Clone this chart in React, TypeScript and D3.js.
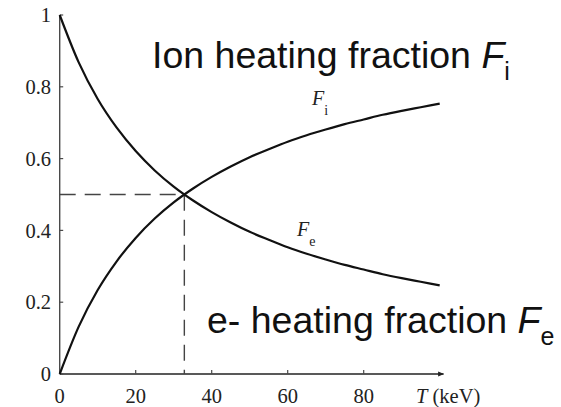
import React from "react";
import * as d3 from "d3";

// Temperature samples (keV)
const temps = [0, 5, 10, 15, 20, 25, 30, 35, 40, 45, 50, 55, 60, 65, 70, 75, 80, 85, 90, 95, 100];
// Fraction of alpha heating going to ions
const ionFraction = [0, 0.132, 0.234, 0.314, 0.379, 0.433, 0.478, 0.516, 0.549, 0.578, 0.604, 0.626, 0.647, 0.665, 0.681, 0.696, 0.709, 0.722, 0.733, 0.743, 0.753];
// Fraction of alpha heating going to electrons
const electronFraction = [1, 0.868, 0.766, 0.686, 0.621, 0.567, 0.522, 0.484, 0.451, 0.422, 0.396, 0.374, 0.353, 0.335, 0.319, 0.304, 0.291, 0.278, 0.267, 0.257, 0.247];
// Crossover point where both fractions equal one half
const crossT = 32.8;
const crossF = 0.5;

const xTicks = [0, 20, 40, 60, 80];
const yTicks = [0, 0.2, 0.4, 0.6, 0.8, 1];
const yTickLabels = ["0", "0.2", "0.4", "0.6", "0.8", "1"];

const W = 561;
const H = 407;

export default function App() {
  const x = d3.scaleLinear().domain([0, 100]).range([59.7, 439.7]);
  const y = d3.scaleLinear().domain([0, 1]).range([374, 15]);

  const line = d3
    .line<number>()
    .x((_, i) => x(temps[i]))
    .y((d) => y(d))
    .curve(d3.curveMonotoneX);

  const serif = "'Liberation Serif', 'Times New Roman', serif";
  const sans = "'Liberation Sans', Arial, sans-serif";
  const axisColor = "#4a4a4a";
  const tickFont = 20.5;
  const x0 = x(0);
  const y0 = y(0);
  const xEnd = x(101);

  return (
    <svg
      width={W}
      height={H}
      viewBox={`0 0 ${W} ${H}`}
      style={{ position: "absolute", left: 0, top: 0, background: "#fff" }}
    >
      <defs>
        <marker id="arrow" viewBox="0 0 10 10" refX="9" refY="5" markerWidth="8" markerHeight="6" orient="auto" markerUnits="userSpaceOnUse">
          <path d="M0,1 L10,5 L0,9 Z" fill="#222" />
        </marker>
      </defs>

      {/* axes */}
      <line x1={x0} y1={y0} x2={x0} y2={y(1)} stroke={axisColor} strokeWidth={1.4} />
      <line x1={x0} y1={y0} x2={xEnd} y2={y0} stroke="#222" strokeWidth={1.4} markerEnd="url(#arrow)" />

      {/* y ticks */}
      {yTicks.map((t, i) => (
        <g key={"y" + i}>
          <line x1={x0} x2={x0 + 3.5} y1={y(t)} y2={y(t)} stroke={axisColor} strokeWidth={1.2} />
          <text x={51} y={y(t)} dy="0.35em" textAnchor="end" fontFamily={serif} fontSize={tickFont} fill="#222">
            {yTickLabels[i]}
          </text>
        </g>
      ))}

      {/* x ticks */}
      {xTicks.map((t) => (
        <g key={"x" + t}>
          {t > 0 && <line x1={x(t)} x2={x(t)} y1={y0} y2={y0 - 4} stroke={axisColor} strokeWidth={1.2} />}
          <text x={x(t)} y={403} textAnchor="middle" fontFamily={serif} fontSize={tickFont} fill="#222">
            {t}
          </text>
        </g>
      ))}
      <text x={416} y={403} fontFamily={serif} fontSize={tickFont} fill="#222">
        <tspan fontStyle="italic">T</tspan> (keV)
      </text>

      {/* crossover guides */}
      <path
        d={`M${x0},${y(crossF)} H${x(crossT)} V${y0}`}
        fill="none"
        stroke="#444"
        strokeWidth={1.4}
        strokeDasharray="16 9"
      />

      {/* curves */}
      <path d={line(ionFraction) || ""} fill="none" stroke="#111" strokeWidth={2.2} />
      <path d={line(electronFraction) || ""} fill="none" stroke="#111" strokeWidth={2.2} />

      {/* curve labels */}
      <text x={312} y={105} fontFamily={serif} fontSize={20} fill="#222">
        <tspan fontStyle="italic">F</tspan>
        <tspan fontSize={14} dy={10}>i</tspan>
      </text>
      <text x={297} y={236} fontFamily={serif} fontSize={20} fill="#222">
        <tspan fontStyle="italic">F</tspan>
        <tspan fontSize={14} dy={10}>e</tspan>
      </text>

      {/* annotations */}
      <text x={152} y={68} fontFamily={sans} fontSize={37.5} fill="#111">
        Ion heating fraction <tspan fontStyle="italic">F</tspan>
        <tspan fontSize={25} dy={12}>i</tspan>
      </text>
      <text x={207} y={333} fontFamily={sans} fontSize={37.5} fill="#111">
        e- heating fraction <tspan fontStyle="italic">F</tspan>
        <tspan fontSize={25} dy={12}>e</tspan>
      </text>
    </svg>
  );
}
